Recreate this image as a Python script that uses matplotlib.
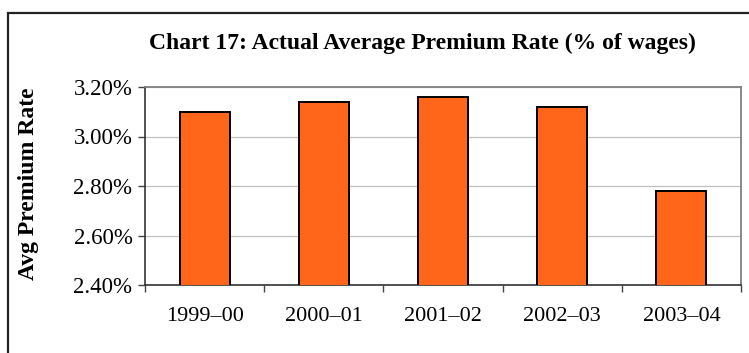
import matplotlib
matplotlib.use('Agg')
import matplotlib.pyplot as plt
from matplotlib.patches import Rectangle
from matplotlib.ticker import FuncFormatter, MultipleLocator

# ===== Data
years = ['1999\u201300', '2000\u201301', '2001\u201302', '2002\u201303', '2003\u201304']
rates = [3.10, 3.14, 3.16, 3.12, 2.78]   # % of wages

plt.rcParams['font.family'] = ['Liberation Serif', 'DejaVu Serif']

W, H = 749, 353
fig = plt.figure(figsize=(W / 100, H / 100), dpi=100)

# chart border (cut off on right and bottom)
fig.patches.append(Rectangle((8 / W, -0.1), 1.2, (H - 13) / H + 0.1,
                             transform=fig.transFigure, fill=False,
                             edgecolor='#222222', linewidth=1.6))

ax = fig.add_axes([145 / W, (H - 285) / H, (741 - 145) / W, (285 - 87) / H])

x = list(range(len(years)))
ax.bar(x, rates, width=0.42, bottom=0, color='#FF6619', edgecolor='black',
       linewidth=1.4, zorder=3)

ax.set_ylim(2.40, 3.20)
ax.set_xlim(-0.5, len(years) - 0.5)
ax.yaxis.set_major_locator(MultipleLocator(0.2))
ax.yaxis.set_major_formatter(FuncFormatter(lambda v, p: '%.2f%%' % v))
ax.grid(axis='y', color='#c0c0c0', linewidth=0.9, zorder=0)

ax.set_xticks(x)
ax.set_xticklabels(years)
ax.set_xticks([i - 0.5 for i in range(len(years) + 1)], minor=True)
ax.tick_params(axis='x', which='major', length=0, pad=16, labelsize=16)
ax.tick_params(axis='x', which='minor', length=5, width=1, color='#444444', direction='out')
ax.tick_params(axis='y', length=5, width=1, color='#444444', labelsize=16.5, pad=4)

for s in ['top', 'right']:
    ax.spines[s].set_color('#808080')
    ax.spines[s].set_linewidth(1.3)
for s in ['left', 'bottom']:
    ax.spines[s].set_color('#333333')
    ax.spines[s].set_linewidth(1.2)

fig.text(422 / W, (H - 43) / H, 'Chart 17: Actual Average Premium Rate (% of wages)',
         ha='center', va='center', fontsize=17, fontweight='bold')
fig.text(29 / W, (H - 184) / H, 'Avg Premium Rate', rotation=90,
         ha='center', va='center', fontsize=17, fontweight='bold')

plt.savefig('out.png', dpi=100)
